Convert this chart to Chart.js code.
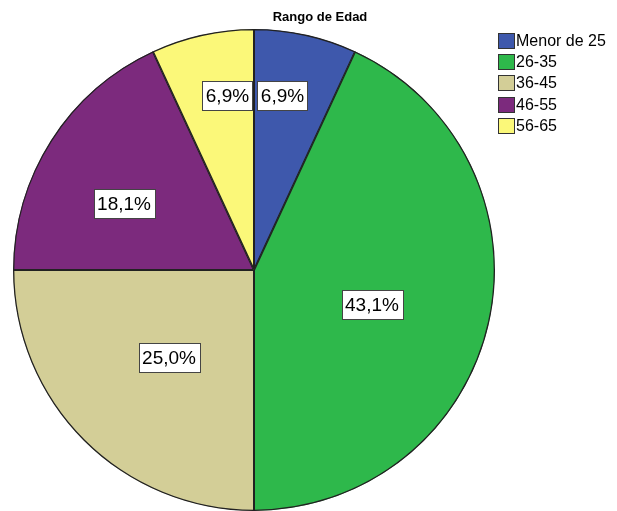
<!DOCTYPE html>
<html lang="es">
<head>
    <meta charset="UTF-8">
    <title>Rango de Edad</title>
    <script src="https://cdn.jsdelivr.net/npm/chart.js"></script>
    <style>
        body { margin: 0; background: #ffffff; }
        #grafico { width: 617px; height: 511px; }
    </style>
</head>
<body>
    <div id="grafico">
        <canvas id="myChartCanvas1" width="617" height="511"></canvas>
    </div>
<script>
    // datos
    const tituloGrafico = 'Rango de Edad';
    const categorias = ['Menor de 25', '26-35', '36-45', '46-55', '56-65'];
    const porcentajes = [6.9, 43.1, 25.0, 18.1, 6.9];
    const colores = ['#3E58AC', '#2EB84B', '#D3CE97', '#7C2A7D', '#FBF879'];

    // donde cae cada etiqueta dentro de su porcion (fraccion del angulo, fraccion del radio)
    const etiquetaAngulo = [0.374, 0.525, 0.491, 0.416, 0.652];
    const etiquetaRadio = [0.733, 0.51, 0.506, 0.606, 0.733];

    const pluginEtiquetas = {
        id: 'etiquetas',
        afterDatasetsDraw(chart) {
            const ctx = chart.ctx;
            const meta = chart.getDatasetMeta(0);
            ctx.save();
            ctx.font = '19px "Liberation Sans", Arial, sans-serif';
            ctx.textAlign = 'center';
            ctx.textBaseline = 'middle';
            meta.data.forEach(function (arco, i) {
                const a = arco.startAngle + (arco.endAngle - arco.startAngle) * etiquetaAngulo[i];
                const r = arco.outerRadius * etiquetaRadio[i];
                const x = arco.x + Math.cos(a) * r;
                const y = arco.y + Math.sin(a) * r;
                const texto = porcentajes[i].toFixed(1).replace('.', ',') + '%';
                const w = ctx.measureText(texto).width + 7;
                const h = 29;
                ctx.fillStyle = '#ffffff';
                ctx.fillRect(Math.round(x - w / 2) + 0.5, Math.round(y - h / 2) + 0.5, Math.round(w), h);
                ctx.strokeStyle = '#444444';
                ctx.lineWidth = 1;
                ctx.strokeRect(Math.round(x - w / 2) + 0.5, Math.round(y - h / 2) + 0.5, Math.round(w), h);
                ctx.fillStyle = '#000000';
                ctx.fillText(texto, x, y + 1);
            });

            // titulo
            ctx.font = 'bold 13px "Liberation Sans", Arial, sans-serif';
            ctx.textBaseline = 'alphabetic';
            ctx.fillText(tituloGrafico, 320, 21);

            // leyenda
            ctx.font = '16px "Liberation Sans", Arial, sans-serif';
            ctx.textAlign = 'left';
            ctx.textBaseline = 'middle';
            categorias.forEach(function (cat, i) {
                const y = 33 + i * 21.2;
                ctx.fillStyle = colores[i];
                ctx.fillRect(498.5, Math.round(y) + 0.5, 16, 15);
                ctx.strokeStyle = '#333333';
                ctx.strokeRect(498.5, Math.round(y) + 0.5, 16, 15);
                ctx.fillStyle = '#000000';
                ctx.fillText(cat, 516, Math.round(y) + 8.5);
            });
            ctx.restore();
        }
    };

    const dados = {
        labels: categorias,
        datasets: [{
            data: porcentajes,
            backgroundColor: colores,
            borderColor: '#222222',
            borderWidth: 1,
            borderAlign: 'inner'
        }]
    };

    const config = {
        type: 'pie',
        data: dados,
        options: {
            responsive: false,
            animation: false,
            events: [],
            layout: {
                padding: { left: 13, right: 122, top: 29, bottom: 0 }
            },
            plugins: {
                legend: { display: false },
                title: { display: false },
                tooltip: { enabled: false }
            }
        },
        plugins: [pluginEtiquetas]
    };

    let myChart = new Chart(
        document.getElementById('myChartCanvas1'),
        config
    );
</script>
</body>
</html>
